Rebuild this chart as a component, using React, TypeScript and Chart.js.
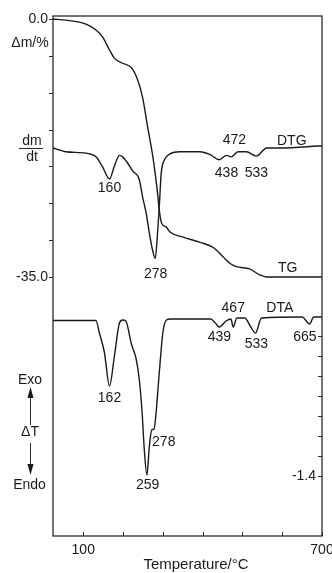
import React, { useEffect, useRef } from "react";
import { Chart, registerables } from "chart.js";

Chart.register(...registerables);

// TG (mass change, %) — left axis
const tgT = [24, 56, 107, 132, 148, 166, 178, 199, 221, 237, 249, 262, 275, 285, 292, 297, 308, 318, 351, 394, 427, 452, 470, 485, 518, 543, 561, 600, 700];
const tgV = [0, -0.15, -0.7, -1.5, -2.4, -4.2, -5.3, -6.0, -6.6, -8.3, -10.6, -14.7, -18.7, -22.8, -26.3, -27.7, -28.2, -28.9, -29.6, -30.3, -31.0, -32.3, -33.2, -33.6, -33.9, -34.7, -35.0, -35.0, -35.0];

// DTG (arbitrary units, plotted against left axis)
const dtgT = [24, 56, 107, 132, 148, 166, 178, 191, 199, 211, 224, 241, 249, 258, 266, 274, 281, 286, 291, 296, 304, 318, 343, 394, 419, 442, 460, 472, 489, 510, 535, 561, 594, 700];
const dtgV = [-17.5, -18.0, -18.2, -18.7, -20.0, -21.7, -20.0, -18.5, -18.7, -19.5, -20.6, -21.8, -24.1, -26.3, -29.0, -31.3, -32.5, -29.6, -25.5, -20.9, -19.1, -18.3, -18.0, -18.0, -18.4, -19.1, -18.5, -18.7, -18.0, -18.0, -18.6, -17.5, -17.5, -17.2];

// DTA (ΔT) — right axis
const dtaT = [24, 132, 140, 153, 166, 178, 191, 199, 207, 221, 233, 241, 248, 253, 260, 266, 272, 278, 283, 291, 300, 309, 320, 420, 432, 442, 459, 471, 477, 486, 506, 521, 533, 548, 650, 669, 679, 700];
const dtaV = [0.155, 0.155, 0.04, -0.16, -0.5, -0.21, 0.13, 0.16, 0.15, -0.08, -0.23, -0.44, -0.77, -1.11, -1.39, -1.11, -0.94, -0.93, -0.77, -0.37, 0.03, 0.16, 0.17, 0.17, 0.13, 0.09, 0.15, 0.17, 0.09, 0.18, 0.18, 0.09, 0.03, 0.18, 0.19, 0.12, 0.19, 0.19];

const xTicks = [100, 200, 300, 400, 500, 600, 700];
const xLabeled = [100, 700];
const leftTicks = [0, -5, -10, -15, -20, -25, -30, -35];
const leftLabeled = [0, -35];
const rightTicks = [0, -0.2, -0.4, -0.6, -0.8, -1.0, -1.2, -1.4];
const rightLabeled = [-1.4];

// Peak / curve annotations: [text, temperature, value]
const leftNotes: [string, number, number][] = [
  ["160", 166, -22.9],
  ["278", 282, -34.6],
  ["438", 460, -20.9],
  ["472", 480, -16.4],
  ["533", 535, -20.9],
  ["DTG", 624, -16.6],
  ["TG", 614, -33.8],
];
const rightNotes: [string, number, number, string][] = [
  ["DTA", 594, 0.28, "center"],
  ["467", 477, 0.28, "center"],
  ["439", 442, -0.01, "center"],
  ["533", 535, -0.08, "center"],
  ["665", 657, -0.01, "center"],
  ["162", 166, -0.62, "center"],
  ["259", 262, -1.49, "center"],
  ["278", 273, -1.06, "left"],
];

const FONT = 'Arial, "Liberation Sans", sans-serif';
const INK = "#1a1a1a";

const pts = (t: number[], v: number[]) => t.map((x, i) => ({ x, y: v[i] }));

const decor = {
  id: "decor",
  afterDraw(chart: any) {
    const { ctx, chartArea: a, scales } = chart;
    const xs = scales.x, yl = scales.y, yr = scales.y2;
    ctx.save();
    ctx.strokeStyle = "#2a2a2a";
    ctx.lineWidth = 1.3;
    ctx.strokeRect(a.left, a.top, a.right - a.left, a.bottom - a.top);
    ctx.lineWidth = 1;
    ctx.beginPath();
    leftTicks.forEach((v) => {
      const y = Math.round(yl.getPixelForValue(v)) + 0.5;
      ctx.moveTo(a.left - 4, y);
      ctx.lineTo(a.left, y);
    });
    rightTicks.forEach((v) => {
      const y = Math.round(yr.getPixelForValue(v)) + 0.5;
      ctx.moveTo(a.right - 4, y);
      ctx.lineTo(a.right, y);
    });
    xTicks.forEach((v) => {
      const x = Math.round(xs.getPixelForValue(v)) + 0.5;
      ctx.moveTo(x, a.bottom);
      ctx.lineTo(x, a.bottom - 4);
    });
    ctx.stroke();

    ctx.fillStyle = INK;
    ctx.font = `14px ${FONT}`;
    ctx.textBaseline = "middle";
    leftNotes.forEach(([t, x, v]) => {
      ctx.textAlign = "center";
      ctx.fillText(t, xs.getPixelForValue(x), yl.getPixelForValue(v));
    });
    rightNotes.forEach(([t, x, v, al]) => {
      ctx.textAlign = al as CanvasTextAlign;
      ctx.fillText(t, xs.getPixelForValue(x), yr.getPixelForValue(v));
    });

    // -1.4 right tick label (inside)
    ctx.textAlign = "right";
    rightLabeled.forEach((v) => {
      ctx.fillText(v.toFixed(1), a.right - 6, yr.getPixelForValue(v));
    });

    // left side captions
    ctx.textAlign = "center";
    ctx.fillText("Δm/%", 30, 43);
    ctx.fillText("dm", 32, 141);
    ctx.fillText("dt", 32, 157);
    ctx.beginPath();
    ctx.moveTo(19, 148.5);
    ctx.lineTo(43, 148.5);
    ctx.stroke();
    ctx.fillText("Exo", 30, 380);
    ctx.fillText("ΔT", 30, 432);
    ctx.fillText("Endo", 29.5, 485);
    // arrows
    ctx.beginPath();
    ctx.moveTo(30.5, 396);
    ctx.lineTo(30.5, 425);
    ctx.moveTo(30.5, 443);
    ctx.lineTo(30.5, 466);
    ctx.stroke();
    ctx.beginPath();
    ctx.moveTo(30.5, 387);
    ctx.lineTo(27.5, 398);
    ctx.lineTo(33.5, 398);
    ctx.closePath();
    ctx.fill();
    ctx.beginPath();
    ctx.moveTo(30.5, 475);
    ctx.lineTo(27.5, 464);
    ctx.lineTo(33.5, 464);
    ctx.closePath();
    ctx.fill();

    ctx.font = `15px ${FONT}`;
    ctx.fillText("Temperature/°C", 196, 565);
    ctx.restore();
  },
};

export default function App() {
  const ref = useRef<HTMLCanvasElement>(null);
  useEffect(() => {
    document.body.style.margin = "0";
    const line = (data: any, axis: string) => ({
      data,
      yAxisID: axis,
      borderColor: INK,
      borderWidth: 1.4,
      pointRadius: 0,
      fill: false,
      cubicInterpolationMode: "monotone" as const,
    });
    const chart = new Chart(ref.current!, {
      type: "line",
      data: {
        datasets: [
          line(pts(tgT, tgV), "y"),
          line(pts(dtgT, dtgV), "y"),
          line(pts(dtaT, dtaV), "y2"),
        ],
      },
      options: {
        responsive: false,
        animation: false,
        layout: { padding: { top: 16, left: 0, right: 0, bottom: 0 } },
        plugins: { legend: { display: false }, tooltip: { enabled: false } },
        scales: {
          x: {
            type: "linear",
            min: 24,
            max: 700,
            grid: { display: false, drawTicks: false },
            border: { display: false },
            afterBuildTicks: (s: any) => {
              s.ticks = xTicks.map((value) => ({ value }));
            },
            afterFit: (s: any) => {
              s.height = 37;
              s.paddingLeft = 0;
              s.paddingRight = 0;
            },
            ticks: {
              padding: 6,
              maxRotation: 0,
              autoSkip: false,
              color: INK,
              font: { size: 14, family: FONT },
              callback: (v: any) => (xLabeled.includes(v) ? String(v) : ""),
            },
          },
          y: {
            type: "linear",
            position: "left",
            min: -70.14,
            max: 0.41,
            grid: { display: false, drawTicks: false },
            border: { display: false },
            afterBuildTicks: (s: any) => {
              s.ticks = leftTicks.map((value) => ({ value }));
            },
            afterFit: (s: any) => {
              s.width = 53;
              s.paddingTop = 0;
              s.paddingBottom = 0;
            },
            ticks: {
              padding: 5,
              autoSkip: false,
              color: INK,
              font: { size: 14, family: FONT },
              callback: (v: any) => (leftLabeled.includes(v) ? v.toFixed(1) : ""),
            },
          },
          y2: {
            type: "linear",
            position: "right",
            min: -2.0,
            max: 3.2,
            grid: { display: false, drawTicks: false },
            border: { display: false },
            afterBuildTicks: (s: any) => {
              s.ticks = rightTicks.map((value) => ({ value }));
            },
            afterFit: (s: any) => {
              s.width = 10;
              s.paddingTop = 0;
              s.paddingBottom = 0;
            },
            ticks: { display: false },
          },
        },
      },
      plugins: [decor],
    });
    return () => chart.destroy();
  }, []);
  return (
    <div style={{ width: 332, height: 573 }}>
      <canvas ref={ref} width={332} height={573} />
    </div>
  );
}
